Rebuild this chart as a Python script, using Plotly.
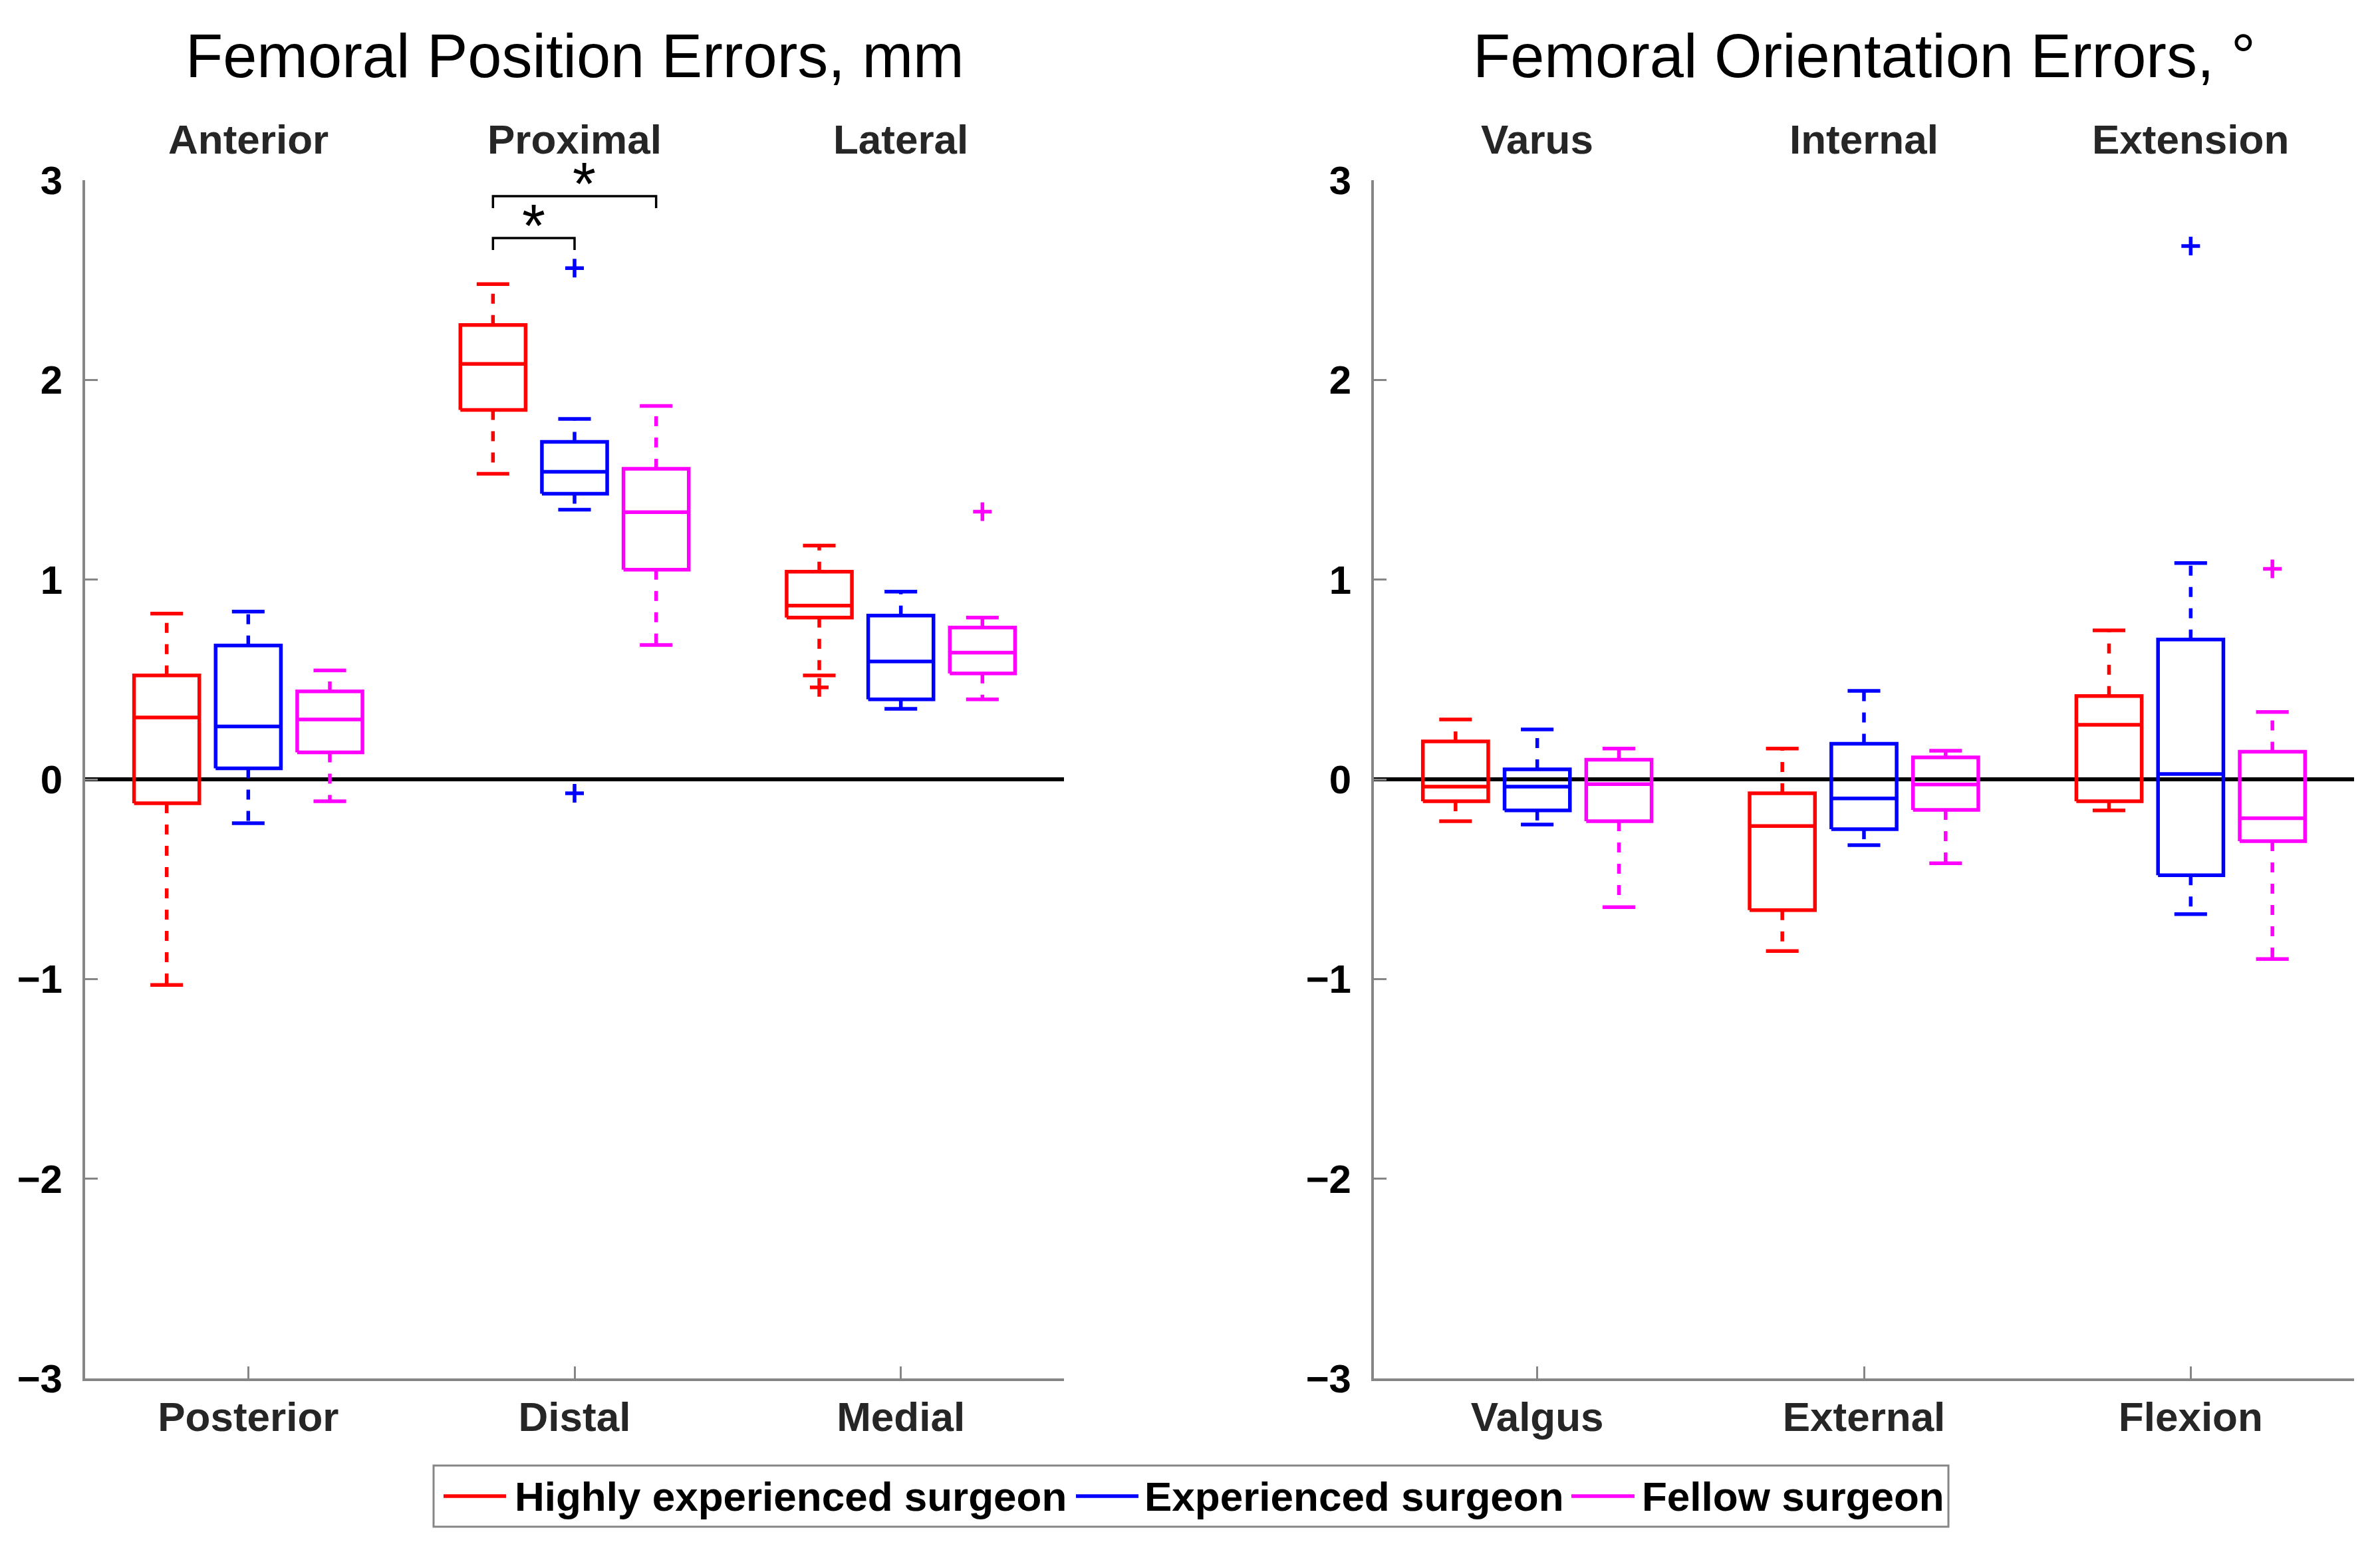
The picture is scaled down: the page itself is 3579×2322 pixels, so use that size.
import plotly.graph_objects as go

# ---------------- data ----------------
series_names = ["Highly experienced surgeon", "Experienced surgeon", "Fellow surgeon"]
series_colors = ["#FF0000", "#0000FF", "#FF00FF"]

pos_top_labels = ["Anterior", "Proximal", "Lateral"]
pos_bottom_labels = ["Posterior", "Distal", "Medial"]
ori_top_labels = ["Varus", "Internal", "Extension"]
ori_bottom_labels = ["Valgus", "External", "Flexion"]

y_ticks = [-3, -2, -1, 0, 1, 2, 3]

# per category: [lower whisker, Q1, median, Q3, upper whisker]
pos_highly = [[-1.03, -0.12, 0.31, 0.52, 0.83], [1.53, 1.85, 2.08, 2.275, 2.48], [0.52, 0.81, 0.87, 1.04, 1.17]]
pos_experienced = [[-0.22, 0.055, 0.265, 0.67, 0.84], [1.35, 1.43, 1.54, 1.69, 1.805], [0.353, 0.40, 0.59, 0.82, 0.94]]
pos_fellow = [[-0.11, 0.135, 0.30, 0.44, 0.545], [0.673, 1.05, 1.338, 1.555, 1.87], [0.40, 0.53, 0.634, 0.76, 0.81]]
pos_highly_out = [[], [], [0.46]]
pos_experienced_out = [[], [2.56, -0.07], []]
pos_fellow_out = [[], [], [1.34]]

ori_highly = [[-0.21, -0.11, -0.037, 0.19, 0.30], [-0.86, -0.655, -0.234, -0.07, 0.154], [-0.156, -0.11, 0.273, 0.417, 0.746]]
ori_experienced = [[-0.226, -0.156, -0.037, 0.05, 0.25], [-0.33, -0.25, -0.096, 0.178, 0.443], [-0.675, -0.48, 0.027, 0.70, 1.083]]
ori_fellow = [[-0.64, -0.21, -0.024, 0.098, 0.154], [-0.42, -0.153, -0.026, 0.11, 0.143], [-0.90, -0.31, -0.195, 0.138, 0.337]]
ori_highly_out = [[], [], []]
ori_experienced_out = [[], [], [2.67]]
ori_fellow_out = [[], [], [1.054]]

# significance brackets in the position panel:
# (category index, series a, series b, bracket height, star x nudge in px)
pos_sig_brackets = [(1, 0, 1, 2.71, 0), (1, 0, 2, 2.92, 14)]

# ---------------- layout helpers ----------------
W, H, OFF = 3563, 2306, 8
def px(x):
    return (x - OFF) / W
def py(y):
    return 1 - (y - OFF) / H

FONT = "Liberation Sans, Arial, sans-serif"
AXIS_GRAY = "#868686"
TEXT_DARK = "#262626"
offsets = [-0.25, 0.0, 0.25]
box_half = 0.1
cap_half = 0.05
LW = 5.5

panels = [
    dict(ax="", dom=[px(128), px(1600)], stats=[pos_highly, pos_experienced, pos_fellow],
         outs=[pos_highly_out, pos_experienced_out, pos_fellow_out],
         top=pos_top_labels, bottom=pos_bottom_labels, title="Femoral Position Errors, mm",
         brackets=pos_sig_brackets),
    dict(ax="2", dom=[px(2066), px(3540)], stats=[ori_highly, ori_experienced, ori_fellow],
         outs=[ori_highly_out, ori_experienced_out, ori_fellow_out],
         top=ori_top_labels, bottom=ori_bottom_labels, title="Femoral Orientation Errors, °",
         brackets=[]),
]

fig = go.Figure()
annotations = []
shapes = []
layout_axes = {}

for pi, p in enumerate(panels):
    xa, ya = "x" + p["ax"], "y" + p["ax"]
    for si, (stats, outs) in enumerate(zip(p["stats"], p["outs"])):
        col = series_colors[si]
        bx, by, wx, wy, cx, cy, ox, oy = [], [], [], [], [], [], [], []
        for ci, (lw, q1, med, q3, uw) in enumerate(stats):
            xc = ci + 1 + offsets[si]
            bx += [xc - box_half, xc + box_half, xc + box_half, xc - box_half, xc - box_half, None,
                   xc - box_half, xc + box_half, None]
            by += [q1, q1, q3, q3, q1, None, med, med, None]
            wx += [xc, xc, None, xc, xc, None]
            wy += [q3, uw, None, q1, lw, None]
            cx += [xc - cap_half, xc + cap_half, None, xc - cap_half, xc + cap_half, None]
            cy += [uw, uw, None, lw, lw, None]
            for v in outs[ci]:
                ox.append(xc)
                oy.append(v)
        fig.add_trace(go.Scatter(x=bx, y=by, mode="lines", xaxis=xa, yaxis=ya,
                                 line=dict(color=col, width=LW), name=series_names[si],
                                 legendgroup=series_names[si], showlegend=False,
                                 hoverinfo="skip"))
        fig.add_trace(go.Scatter(x=wx, y=wy, mode="lines", xaxis=xa, yaxis=ya,
                                 line=dict(color=col, width=LW, dash="15px,17px"),
                                 legendgroup=series_names[si], showlegend=False, hoverinfo="skip"))
        fig.add_trace(go.Scatter(x=cx, y=cy, mode="lines", xaxis=xa, yaxis=ya,
                                 line=dict(color=col, width=LW),
                                 legendgroup=series_names[si], showlegend=False, hoverinfo="skip"))
        if ox:
            fig.add_trace(go.Scatter(x=ox, y=oy, mode="markers", xaxis=xa, yaxis=ya,
                                     marker=dict(symbol="cross-thin", size=20, color=col,
                                                 line=dict(color=col, width=5.5)),
                                     legendgroup=series_names[si], showlegend=False,
                                     hoverinfo="skip"))
    # significance brackets
    for (ci, sa, sb, h, nudge) in p["brackets"]:
        x1 = ci + 1 + offsets[sa]
        x2 = ci + 1 + offsets[sb]
        fig.add_trace(go.Scatter(x=[x1, x1, x2, x2], y=[h - 0.06, h, h, h - 0.06], mode="lines",
                                 xaxis=xa, yaxis=ya, line=dict(color="black", width=3.5),
                                 showlegend=False, hoverinfo="skip"))
        annotations.append(dict(x=(x1 + x2) / 2, y=h, xref=xa, yref=ya, text="*",
                                showarrow=False, yanchor="bottom", yshift=-34, xshift=nudge,
                                font=dict(family=FONT, size=90, color="black")))
    # top category labels
    for ci, lab in enumerate(p["top"]):
        annotations.append(dict(x=ci + 1, y=py(209), xref=xa, yref="paper", text=lab,
                                showarrow=False, yanchor="middle", xanchor="center",
                                font=dict(family=FONT, size=62, color=TEXT_DARK, weight="bold")))
    # panel title
    annotations.append(dict(x=(p["dom"][0] + p["dom"][1]) / 2, y=py(84), xref="paper", yref="paper",
                            text=p["title"], showarrow=False, yanchor="middle", xanchor="center",
                            font=dict(family=FONT, size=92, color="black")))

    layout_axes["xaxis" + p["ax"]] = dict(
        domain=p["dom"], range=[0.5, 3.5], tickmode="array", tickvals=[1, 2, 3], ticktext=p["bottom"],
        ticks="inside", ticklen=18, tickwidth=3, tickcolor=AXIS_GRAY, showline=True,
        linecolor=AXIS_GRAY, linewidth=4, showgrid=False, zeroline=False, anchor=ya,
        ticklabelstandoff=1, automargin=False,
        tickfont=dict(family=FONT, size=62, color=TEXT_DARK, weight="bold"))
    layout_axes["yaxis" + p["ax"]] = dict(
        domain=[py(2073), py(271)], range=[-3, 3], tickmode="array", tickvals=y_ticks,
        ticks="inside", ticklen=19, tickwidth=3, tickcolor=AXIS_GRAY, showline=True,
        linecolor=AXIS_GRAY, linewidth=4, showgrid=False, zeroline=True, zerolinecolor="black",
        zerolinewidth=5.5, anchor=xa, ticklabelstandoff=18, automargin=False,
        tickfont=dict(family=FONT, size=60, color="black", weight="bold"))

# ---------------- legend (drawn as a MATLAB-style box with long line samples) ----------------
legend_box = (652, 2204, 2930, 2296)      # page pixels: left, top, right, bottom
legend_line_x = [(667, 761), (1618, 1712), (2363, 2458)]
legend_text_x = [772, 1719, 2467]
legend_mid_y = (legend_box[1] + legend_box[3]) / 2
shapes.append(dict(type="rect", xref="paper", yref="paper",
                   x0=px(legend_box[0]), x1=px(legend_box[2]), y0=py(legend_box[3]), y1=py(legend_box[1]),
                   line=dict(color=AXIS_GRAY, width=3), fillcolor="white", layer="above"))
for si, name in enumerate(series_names):
    shapes.append(dict(type="line", xref="paper", yref="paper",
                       x0=px(legend_line_x[si][0]), x1=px(legend_line_x[si][1]),
                       y0=py(legend_mid_y), y1=py(legend_mid_y),
                       line=dict(color=series_colors[si], width=LW), layer="above"))
    annotations.append(dict(x=px(legend_text_x[si]), y=py(legend_mid_y), xref="paper", yref="paper",
                            text=name, showarrow=False, xanchor="left", yanchor="middle",
                            font=dict(family=FONT, size=62, color="black", weight="bold")))

fig.update_layout(
    width=W, height=H, margin=dict(l=0, r=0, t=0, b=0, autoexpand=False),
    paper_bgcolor="white", plot_bgcolor="white",
    annotations=annotations, shapes=shapes,
    showlegend=False,
    **layout_axes,
)

fig.write_html("out.html")
